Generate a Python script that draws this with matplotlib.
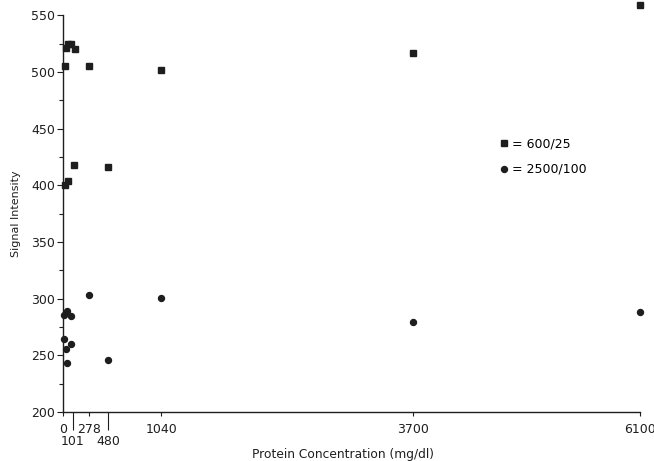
import matplotlib
matplotlib.use("Agg")
import matplotlib.pyplot as plt

# data
sq_x = [25, 30, 55, 80, 130, 278, 1040, 3700, 6100, 20, 50, 120, 480]
sq_y = [505, 521, 525, 525, 520, 505, 502, 517, 559, 400, 404, 418, 416]

circ_x = [10, 40, 90, 278, 1040, 10, 90, 30, 40, 480, 3700, 6100]
circ_y = [286, 289, 285, 303, 301, 264, 260, 256, 243, 246, 279, 288]

major_x = [0, 278, 1040, 3700, 6100]
minor_x = [101, 480]
y_major = [200, 250, 300, 350, 400, 450, 500, 550]
y_minor = [225, 275, 325, 375, 425, 475, 525]

ink = "#1e1e1e"
plt.rcParams['font.family'] = ['DejaVu Sans']

fig = plt.figure(figsize=(6.54, 4.61), dpi=100)
ax = fig.add_axes([0.0963, 0.1063, 0.8823, 0.8601])

ax.plot(sq_x, sq_y, linestyle='none', marker='s', markersize=4.6,
        color=ink, clip_on=False, label='= 600/25')
ax.plot(circ_x, circ_y, linestyle='none', marker='o', markersize=4.3,
        color=ink, clip_on=False, label='= 2500/100')

ax.set_xlim(0, 6100)
ax.set_ylim(200, 550)

ax.spines['top'].set_visible(False)
ax.spines['right'].set_visible(False)
for s in ('left', 'bottom'):
    ax.spines[s].set_color(ink)
    ax.spines[s].set_linewidth(1.0)

ax.set_xticks(major_x)
ax.set_xticklabels([str(v) for v in major_x])
ax.set_xticks(minor_x, minor=True)
ax.set_xticklabels([str(v) for v in minor_x], minor=True)
ax.set_yticks(y_major)
ax.set_yticks(y_minor, minor=True)

ax.tick_params(axis='x', which='major', length=3, width=0.8, pad=5,
               labelsize=9, colors=ink)
ax.tick_params(axis='x', which='minor', length=13, width=0.8, pad=3.5,
               labelsize=9, colors=ink)
ax.tick_params(axis='y', which='major', length=4, width=0.8, pad=1.5,
               labelsize=9, colors=ink)
ax.tick_params(axis='y', which='minor', length=3, width=0.8, colors=ink)

ax.set_xlabel('Protein Concentration (mg/dl)', fontsize=8.8, color=ink)
ax.xaxis.set_label_coords(0.485, -0.09)
ax.set_ylabel('Signal Intensity', fontsize=8, color=ink)
ax.yaxis.set_label_coords(-0.072, 0.5)

ax.legend(loc='upper left', bbox_to_anchor=(0.75, 0.705), frameon=False,
          fontsize=9, handlelength=0.6, handletextpad=0.3,
          labelspacing=1.0, borderaxespad=0)

fig.savefig('out.png', dpi=100)
